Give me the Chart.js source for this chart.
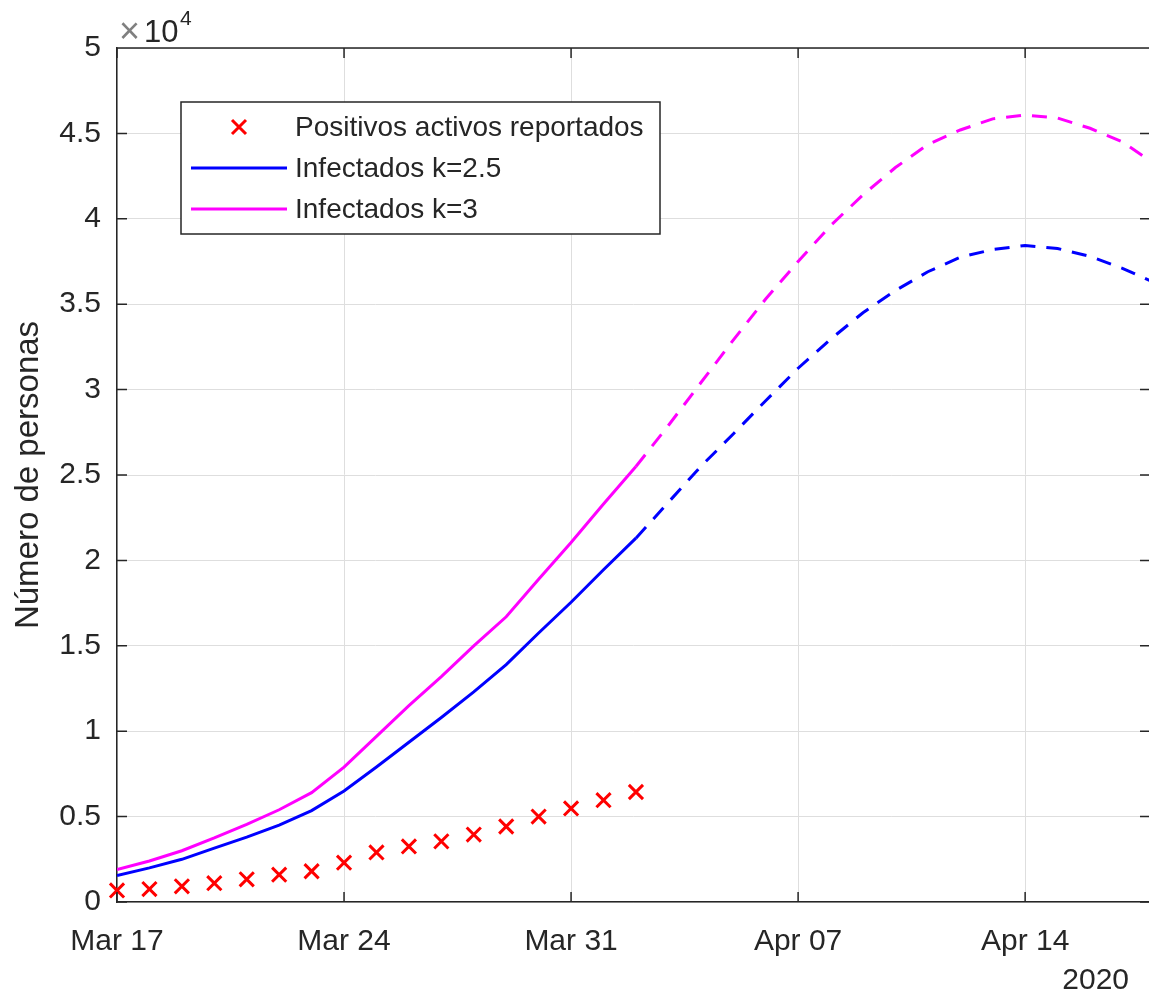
<!DOCTYPE html>
<html>
<head>
<meta charset="utf-8">
<script src="https://cdn.jsdelivr.net/npm/chart.js@4"></script>
<style>
  html, body { margin: 0; padding: 0; background: #fff; overflow: hidden; }
  canvas { display: block; }
</style>
</head>
<body>
<canvas id="myChart" width="1152" height="994"></canvas>
<script>
// datos (personas por dia)
const fechas = [
  '2020-03-17', '2020-03-18', '2020-03-19', '2020-03-20', '2020-03-21', '2020-03-22',
  '2020-03-23', '2020-03-24', '2020-03-25', '2020-03-26', '2020-03-27', '2020-03-28',
  '2020-03-29', '2020-03-30', '2020-03-31', '2020-04-01', '2020-04-02', '2020-04-03',
  '2020-04-04', '2020-04-05', '2020-04-06', '2020-04-07', '2020-04-08', '2020-04-09',
  '2020-04-10', '2020-04-11', '2020-04-12', '2020-04-13', '2020-04-14', '2020-04-15',
  '2020-04-16', '2020-04-17', '2020-04-18'
];
const positivos = [680, 760, 920, 1100, 1330, 1600, 1800, 2300, 2900, 3250, 3550,
  3950, 4420, 5000, 5480, 5960, 6440];
const infectadosK25 = [1550, 2000, 2500, 3150, 3800, 4500, 5350, 6500, 7900, 9350,
  10800, 12300, 13900, 15750, 17550, 19450, 21300, 23400, 25500, 27400, 29350, 31250,
  32950, 34500, 35800, 36900, 37750, 38200, 38440, 38260, 37800, 37100, 36250];
const infectadosK3 = [1900, 2400, 3000, 3750, 4550, 5400, 6400, 7900, 9700, 11500,
  13200, 15000, 16700, 18900, 21050, 23300, 25500, 27900, 30400, 32900, 35300, 37500,
  39600, 41400, 43000, 44350, 45200, 45850, 46070, 45900, 45300, 44500, 43200];
const ultimoDia = 16; // Apr 02: despues la proyeccion va punteada

const etiquetasX = ['Mar 17', 'Mar 24', 'Mar 31', 'Apr 07', 'Apr 14'];
const etiquetasY = ['0', '0.5', '1', '1.5', '2', '2.5', '3', '3.5', '4', '4.5', '5'];

const t0 = Date.parse(fechas[0]);
const dia = f => (Date.parse(f) - t0) / 86400000;
const pts = (vals, desde, hasta) =>
  vals.slice(desde, hasta).map((v, i) => ({ x: dia(fechas[desde + i]), y: v }));

const FONT = "'Liberation Sans', Arial, sans-serif";
const TXT = '#262626';

// ejes estilo matlab: caja arriba/derecha, ticks hacia dentro, leyenda, x10^4, año
const matlabExtras = {
  id: 'matlabExtras',
  afterDraw(chart) {
    const { ctx, chartArea: a, scales: { x, y } } = chart;
    ctx.save();
    ctx.strokeStyle = TXT;
    ctx.lineWidth = 1.5;
    ctx.beginPath();
    ctx.moveTo(a.left, a.top); ctx.lineTo(a.right, a.top); ctx.lineTo(a.right, a.bottom);
    const tl = 10;
    y.ticks.forEach(t => {
      const py = y.getPixelForValue(t.value);
      ctx.moveTo(a.left, py); ctx.lineTo(a.left + tl, py);
      ctx.moveTo(a.right, py); ctx.lineTo(a.right - tl, py);
    });
    x.ticks.forEach(t => {
      const px = x.getPixelForValue(t.value);
      ctx.moveTo(px, a.bottom); ctx.lineTo(px, a.bottom - tl);
      ctx.moveTo(px, a.top); ctx.lineTo(px, a.top + tl);
    });
    ctx.stroke();

    // x10^4
    ctx.textAlign = 'left';
    ctx.textBaseline = 'alphabetic';
    ctx.fillStyle = '#808080';
    ctx.font = '36px ' + FONT;
    ctx.fillText('\u00d7', 119, 43);
    ctx.fillStyle = TXT;
    ctx.font = '31px ' + FONT;
    ctx.fillText('10', 144, 42);
    ctx.font = '21px ' + FONT;
    ctx.fillText('4', 180, 25);

    // año
    ctx.font = '30px ' + FONT;
    ctx.textAlign = 'right';
    ctx.fillText('2020', 1129, 989);

    // leyenda
    const lx = 181, ly = 102, lw = 479, lh = 132;
    ctx.fillStyle = '#fff';
    ctx.fillRect(lx, ly, lw, lh);
    ctx.strokeStyle = TXT;
    ctx.lineWidth = 1.5;
    ctx.strokeRect(lx, ly, lw, lh);
    const ds = chart.data.datasets;
    const filas = [127, 168, 209];
    ctx.font = '28px ' + FONT;
    ctx.textAlign = 'left';
    ctx.textBaseline = 'middle';
    for (let i = 0; i < 3; i++) {
      const d = ds[i], fy = filas[i];
      ctx.strokeStyle = d.borderColor;
      ctx.lineWidth = 3;
      ctx.beginPath();
      if (d.showLine === false) {
        const r = 7;
        ctx.moveTo(239 - r, fy - r); ctx.lineTo(239 + r, fy + r);
        ctx.moveTo(239 + r, fy - r); ctx.lineTo(239 - r, fy + r);
      } else {
        ctx.moveTo(191, fy); ctx.lineTo(287, fy);
      }
      ctx.stroke();
      ctx.fillStyle = TXT;
      ctx.fillText(d.label, 295, fy + 1);
    }
    ctx.restore();
  }
};

const ctx = document.getElementById('myChart').getContext('2d');
const myChart = new Chart(ctx, {
  type: 'scatter',
  data: {
    datasets: [
      {
        label: 'Positivos activos reportados',
        data: pts(positivos, 0, positivos.length),
        showLine: false,
        clip: false,
        pointStyle: 'crossRot',
        pointRadius: 10,
        pointBorderWidth: 3,
        borderColor: '#ff0000',
        backgroundColor: '#ff0000'
      },
      {
        label: 'Infectados k=2.5',
        data: pts(infectadosK25, 0, ultimoDia + 1),
        showLine: true,
        borderColor: '#0000ff',
        borderWidth: 3,
        pointRadius: 0
      },
      {
        label: 'Infectados k=3',
        data: pts(infectadosK3, 0, ultimoDia + 1),
        showLine: true,
        borderColor: '#ff00ff',
        borderWidth: 3,
        pointRadius: 0
      },
      {
        label: 'k=2.5 proyeccion',
        data: pts(infectadosK25, ultimoDia, infectadosK25.length),
        showLine: true,
        borderColor: '#0000ff',
        borderWidth: 3,
        borderDash: [15, 11],
        pointRadius: 0
      },
      {
        label: 'k=3 proyeccion',
        data: pts(infectadosK3, ultimoDia, infectadosK3.length),
        showLine: true,
        borderColor: '#ff00ff',
        borderWidth: 3,
        borderDash: [15, 11],
        pointRadius: 0
      }
    ]
  },
  options: {
    responsive: false,
    animation: false,
    layout: { autoPadding: false, padding: { left: 0, top: 48, right: 2, bottom: 0 } },
    plugins: {
      legend: { display: false },
      tooltip: { enabled: false }
    },
    scales: {
      x: {
        type: 'linear',
        min: 0,
        max: 31.85,
        afterFit: s => { s.height = 92; s.paddingLeft = 0; s.paddingRight = 0; },
        grid: { color: '#dedede', lineWidth: 1, drawTicks: false },
        border: { color: TXT, width: 1.5 },
        ticks: {
          stepSize: 7,
          includeBounds: false,
          padding: 22,
          color: TXT,
          font: { family: FONT, size: 30 },
          maxRotation: 0,
          autoSkip: false,
          callback: v => etiquetasX[v / 7] ?? ''
        }
      },
      y: {
        min: 0,
        max: 50000,
        afterFit: s => { s.width = 117; },
        grid: { color: '#dedede', lineWidth: 1, drawTicks: false },
        border: { color: TXT, width: 1.5 },
        ticks: {
          stepSize: 5000,
          padding: 16,
          color: TXT,
          font: { family: FONT, size: 30 },
          callback: v => etiquetasY[v / 5000] ?? ''
        },
        title: {
          display: true,
          text: 'Número de personas',
          color: TXT,
          font: { family: FONT, size: 33 },
          padding: { top: 9, bottom: 0 }
        }
      }
    }
  },
  plugins: [matlabExtras]
});
</script>
</body>
</html>
